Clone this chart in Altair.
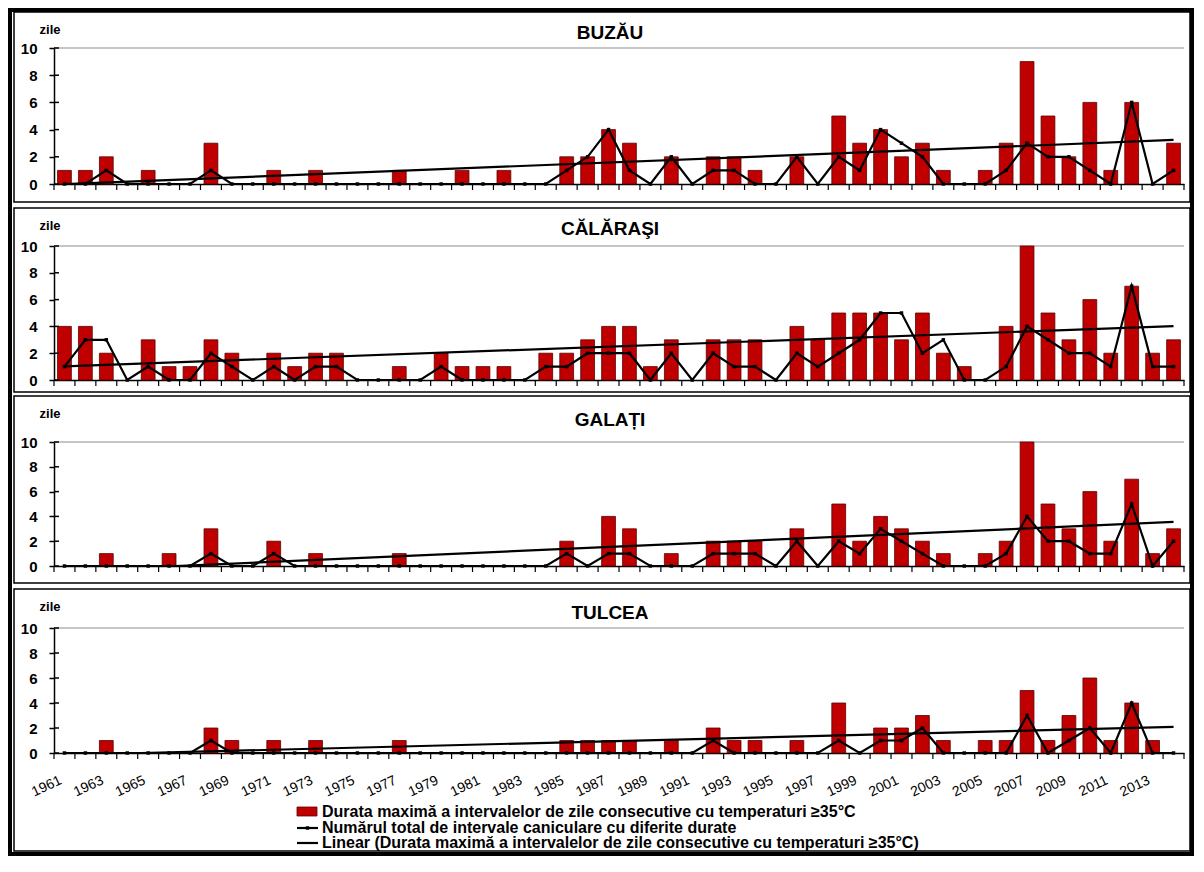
import altair as alt
import pandas as pd

years = list(range(1961, 2015))
label_years = list(range(1961, 2014, 2))
y_ticks = [0, 2, 4, 6, 8, 10]

station_names = ["BUZĂU", "CĂLĂRAŞI", "GALAȚI", "TULCEA"]

buzau_max = [1, 1, 2, 0, 1, 0, 0, 3, 0, 0,
             1, 0, 1, 0, 0, 0, 1, 0, 0, 1,
             0, 1, 0, 0, 2, 2, 4, 3, 0, 2,
             0, 2, 2, 1, 0, 2, 0, 5, 3, 4,
             2, 3, 1, 0, 1, 3, 9, 5, 2, 6,
             1, 6, 0, 3]
buzau_cnt = [0, 0, 1, 0, 0, 0, 0, 1, 0, 0,
             0, 0, 0, 0, 0, 0, 0, 0, 0, 0,
             0, 0, 0, 0, 1, 2, 4, 1, 0, 2,
             0, 1, 1, 0, 0, 2, 0, 2, 1, 4,
             3, 2, 0, 0, 0, 1, 3, 2, 2, 1,
             0, 6, 0, 1]

calarasi_max = [4, 4, 2, 0, 3, 1, 1, 3, 2, 0,
                2, 1, 2, 2, 0, 0, 1, 0, 2, 1,
                1, 1, 0, 2, 2, 3, 4, 4, 1, 3,
                0, 3, 3, 3, 0, 4, 3, 5, 5, 5,
                3, 5, 2, 1, 0, 4, 10, 5, 3, 6,
                2, 7, 2, 3]
calarasi_cnt = [1, 3, 3, 0, 1, 0, 0, 2, 1, 0,
                1, 0, 1, 1, 0, 0, 0, 0, 1, 0,
                0, 0, 0, 1, 1, 2, 2, 2, 0, 2,
                0, 2, 1, 1, 0, 2, 1, 2, 3, 5,
                5, 2, 3, 0, 0, 1, 4, 3, 2, 2,
                1, 7, 1, 1]

galati_max = [0, 0, 1, 0, 0, 1, 0, 3, 0, 0,
              2, 0, 1, 0, 0, 0, 1, 0, 0, 0,
              0, 0, 0, 0, 2, 0, 4, 3, 0, 1,
              0, 2, 2, 2, 0, 3, 0, 5, 2, 4,
              3, 2, 1, 0, 1, 2, 10, 5, 3, 6,
              2, 7, 1, 3]
galati_cnt = [0, 0, 0, 0, 0, 0, 0, 1, 0, 0,
              1, 0, 0, 0, 0, 0, 0, 0, 0, 0,
              0, 0, 0, 0, 1, 0, 1, 1, 0, 0,
              0, 1, 1, 1, 0, 2, 0, 2, 1, 3,
              2, 1, 0, 0, 0, 1, 4, 2, 2, 1,
              1, 5, 0, 2]

tulcea_max = [0, 0, 1, 0, 0, 0, 0, 2, 1, 0,
              1, 0, 1, 0, 0, 0, 1, 0, 0, 0,
              0, 0, 0, 0, 1, 1, 1, 1, 0, 1,
              0, 2, 1, 1, 0, 1, 0, 4, 0, 2,
              2, 3, 1, 0, 1, 1, 5, 1, 3, 6,
              1, 4, 1, 0]
tulcea_cnt = [0, 0, 0, 0, 0, 0, 0, 1, 0, 0,
              0, 0, 0, 0, 0, 0, 0, 0, 0, 0,
              0, 0, 0, 0, 0, 0, 0, 0, 0, 0,
              0, 1, 0, 0, 0, 0, 0, 1, 0, 1,
              1, 2, 0, 0, 0, 0, 3, 0, 1, 2,
              0, 4, 0, 0]

legend_labels = [
    "Durata maximă a intervalelor de zile consecutive cu temperaturi ≥35°C",
    "Numărul total de intervale caniculare cu diferite durate",
    "Linear (Durata maximă a intervalelor de zile consecutive cu temperaturi ≥35°C)",
]

FONT = "Liberation Sans"
BAR_RED = "#C00000"
W = 1130
heights = [136, 134, 124, 125]
# frame (top, bottom) relative to each plot area, title y, "zile" y
frames = [(-36, 154), (-38, 146), (-46, 141), (-39, 223)]
title_ys = [-15, -17, -22, -15]
zile_ys = [-18, -20, -28, -21]

xscale = alt.Scale(domain=[1960.5, 2014.5], nice=False, zero=False)
yscale = alt.Scale(domain=[0, 10], nice=False, zero=True)
one = alt.Data(values=[{"a": 1}])


def panel(i, name, maxv, cnt, last=False):
    h = heights[i]
    df = pd.DataFrame({"year": years, "dur": maxv, "cnt": cnt})
    bounds = pd.DataFrame({"b": [y - 0.5 for y in years] + [years[-1] + 0.5]})
    yt = pd.DataFrame({"v": y_ticks})

    xaxis = alt.Axis(values=label_years, title=None, ticks=False, labels=last,
                     format="d", labelAngle=-25, labelFontSize=14,
                     labelPadding=20, labelOffset=-7, labelOverlap=False,
                     labelBound=False, labelFlush=False, grid=False,
                     domainColor="black", domainWidth=1.5, labelColor="black",
                     labelFont=FONT)
    yaxis = alt.Axis(values=y_ticks, title=None, grid=False, labelFontSize=15,
                     labelFontWeight="bold", tickSize=5, labelPadding=12,
                     domainColor="black", domainWidth=1.5, tickColor="black",
                     tickWidth=1.5, labelColor="black", labelFont=FONT)

    X = lambda f: alt.X(f, scale=xscale, axis=xaxis)
    Y = lambda f: alt.Y(f, scale=yscale, axis=yaxis)

    ft, fb = frames[i]
    layers = []
    layers.append(alt.Chart(one).mark_rect(fillOpacity=0, stroke="black", strokeWidth=1.5).encode(
        x=alt.value(-40), x2=alt.value(1136), y=alt.value(ft), y2=alt.value(fb)))
    if i == 0:
        layers.append(alt.Chart(one).mark_rect(fillOpacity=0, stroke="black", strokeWidth=4).encode(
            x=alt.value(-44), x2=alt.value(1138), y=alt.value(-38), y2=alt.value(806)))
    layers.append(alt.Chart(one).mark_rule(color="#8c8c8c", strokeWidth=1).encode(
        x=alt.value(0), x2=alt.value(W), y=alt.value(0)))
    bars = alt.Chart(df).transform_filter("datum.dur > 0").transform_calculate(
        x1="datum.year - 0.33", x2="datum.year + 0.33", y0="0"
    ).mark_bar(color=BAR_RED, stroke="#5a0000", strokeWidth=0.8).encode(
        x=X("x1:Q"), x2="x2:Q", y=Y("dur:Q"), y2="y0:Q")
    layers.append(bars)
    trend = alt.Chart(df).transform_regression(
        "year", "dur", method="linear", extent=[1961, 2014]
    ).mark_line(color="black", strokeWidth=2.2, clip=True).encode(x=X("year:Q"), y=Y("dur:Q"))
    layers.append(trend)
    line = alt.Chart(df).mark_line(
        color="black", strokeWidth=2.2,
        point=alt.OverlayMarkDef(shape="square", size=12, color="black", filled=True)
    ).encode(x=X("year:Q"), y=Y("cnt:Q"))
    layers.append(line)
    layers.append(alt.Chart(bounds).mark_rule(color="black", strokeWidth=1.2).encode(
        x=X("b:Q"), y=alt.value(h), y2=alt.value(h + 6)))
    layers.append(alt.Chart(yt).mark_rule(color="black", strokeWidth=1.5).encode(
        y=Y("v:Q"), x=alt.value(0), x2=alt.value(5)))
    layers.append(alt.Chart(one).mark_text(
        text=name, font=FONT, fontSize=19, fontWeight="bold", align="center",
        baseline="middle", color="black").encode(x=alt.value(556), y=alt.value(title_ys[i])))
    layers.append(alt.Chart(one).mark_text(
        text="zile", font=FONT, fontSize=13, fontWeight="bold", align="center",
        baseline="middle", color="black").encode(x=alt.value(-4), y=alt.value(zile_ys[i])))

    if last:
        rows = [184, 200, 215]
        layers.append(alt.Chart(one).mark_rect(color=BAR_RED, stroke="#5a0000", strokeWidth=0.8).encode(
            x=alt.value(243), x2=alt.value(263), y=alt.value(rows[0] - 5), y2=alt.value(rows[0] + 4)))
        for r in rows[1:]:
            layers.append(alt.Chart(one).mark_rule(color="black", strokeWidth=2.2).encode(
                x=alt.value(243), x2=alt.value(264), y=alt.value(r)))
        layers.append(alt.Chart(one).mark_point(shape="square", size=12, filled=True, color="black", opacity=1).encode(
            x=alt.value(253.5), y=alt.value(rows[1])))
        for r, lab in zip(rows, legend_labels):
            layers.append(alt.Chart(one).mark_text(
                text=lab, font=FONT, fontSize=16, fontWeight="bold", align="left",
                baseline="middle", color="black").encode(x=alt.value(268), y=alt.value(r)))

    return alt.layer(*layers).properties(width=W, height=h)


panels = [
    panel(0, station_names[0], buzau_max, buzau_cnt),
    panel(1, station_names[1], calarasi_max, calarasi_cnt),
    panel(2, station_names[2], galati_max, galati_cnt),
    panel(3, station_names[3], tulcea_max, tulcea_cnt, last=True),
]

chart = alt.vconcat(*panels, spacing=62, bounds="flush").properties(
    padding=0, background="white"
).configure(font=FONT).configure_view(stroke=None)

chart.save("out.html", embed_options={"renderer": "svg", "actions": False})
